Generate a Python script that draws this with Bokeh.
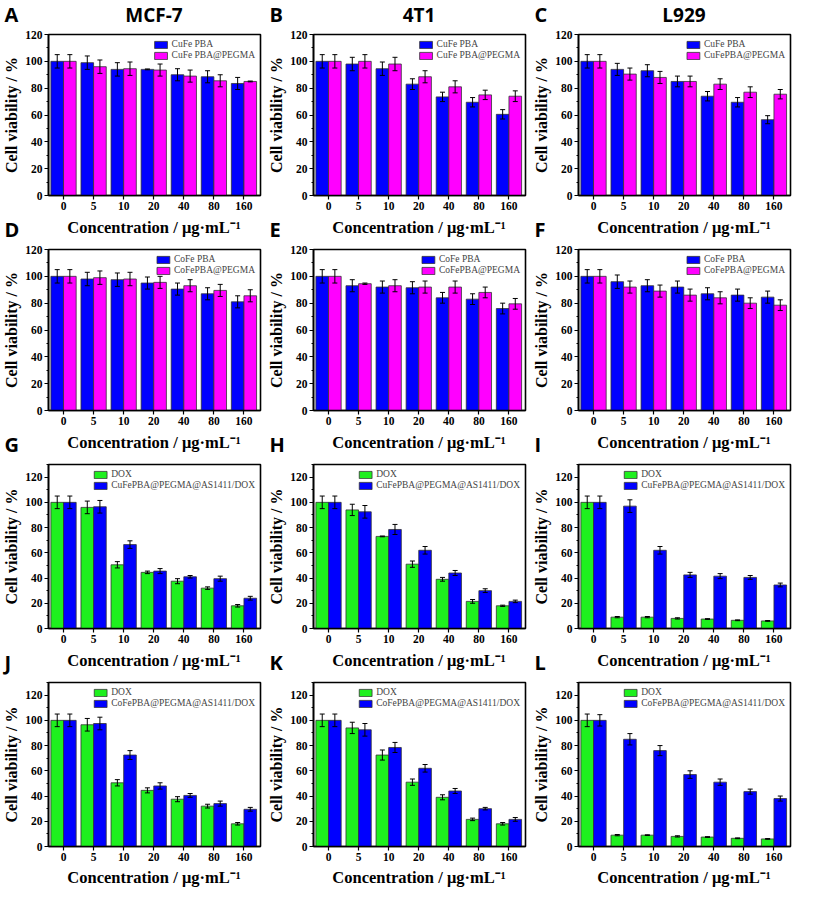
import numpy as np
from bokeh.plotting import figure
from bokeh.models import (ColumnDataSource, Whisker, TeeHead, Legend, LegendItem,
                          FixedTicker, SingleIntervalTicker, Range1d)
from bokeh.core.properties import value
from bokeh.layouts import column, row
from bokeh.embed import file_html
from bokeh.resources import INLINE

# ---------------- data ----------------
conc_labels = ["0", "5", "10", "20", "40", "80", "160"]
cell_lines = ["MCF-7", "4T1", "L929"]
panel_letters = ["A", "B", "C", "D", "E", "F", "G", "H", "I", "J", "K", "L"]
x_title = "Concentration / μg·mL⁻¹"
y_title = "Cell viability / %"

# Row 1: CuFe PBA vs CuFe PBA@PEGMA
a_pba = [100, 99, 94, 94, 90, 88.5, 83.5]
a_pba_err = [5, 5, 5, 0.3, 4.5, 4.5, 4.5]
a_peg = [100, 96, 94.5, 93.5, 89, 85.5, 85]
a_peg_err = [5, 5, 5, 4.5, 4.5, 4.5, 0.3]

b_pba = [100, 98, 94.5, 83, 73.5, 69.5, 60.5]
b_pba_err = [5, 5, 5, 4, 3.5, 3.5, 3.5]
b_peg = [100, 100, 98, 88.5, 81, 75, 74]
b_peg_err = [5, 5, 5, 4.5, 4.5, 3.5, 4]

c_pba = [100, 94, 93, 85, 74, 69.5, 56.5]
c_pba_err = [5, 4.5, 4.5, 4, 3.5, 3.5, 3]
c_peg = [100, 90.5, 88, 85, 83, 77, 75.5]
c_peg_err = [5, 4.5, 4.5, 4, 4, 4, 3.5]

# Row 2: CoFe PBA vs CoFePBA@PEGMA
d_pba = [100, 98, 97.5, 95, 90.5, 87, 81]
d_pba_err = [5, 5, 5, 4.5, 4.5, 4.5, 4.5]
d_peg = [100, 99, 98, 95.5, 93, 89.5, 85.5]
d_peg_err = [5, 5, 5, 4.5, 4.5, 4.5, 4.5]

e_pba = [100, 93, 92, 91.5, 84, 83, 76]
e_pba_err = [5, 4.5, 4.5, 4.5, 4, 4, 4]
e_peg = [100, 94.5, 93, 92, 92, 88, 79.5]
e_peg_err = [5, 0.5, 4.5, 4.5, 4.5, 4, 4]

f_pba = [100, 96, 93, 92, 87, 86, 84.5]
f_pba_err = [5, 5, 4.5, 4.5, 4.5, 4.5, 4.5]
f_peg = [100, 92, 89, 86, 84, 80, 78.5]
f_peg_err = [5, 4.5, 4.5, 4.5, 4.5, 4, 4]

# Row 3: DOX vs CuFePBA@PEGMA@AS1411/DOX
g_dox = [100, 96, 50.5, 44.5, 37.5, 32, 18]
g_dox_err = [5, 5, 2.5, 1, 2, 1, 1]
g_np = [100, 96.5, 66.5, 45.5, 41, 39.5, 24]
g_np_err = [5, 5, 3, 2, 1, 2, 1.5]

h_dox = [100, 94, 73, 51, 39, 21.5, 18]
h_dox_err = [5, 4.5, 0.3, 2.5, 1.5, 1.5, 0.5]
h_np = [100, 92.5, 78.5, 62, 44, 30, 21.5]
h_np_err = [5, 5, 4, 3, 2, 1.5, 1]

i_dox = [100, 9, 9, 8, 7.5, 6.5, 6]
i_dox_err = [5, 0.5, 0.5, 0.5, 0.3, 0.3, 0.3]
i_np = [100, 97, 62, 42.5, 41.5, 40.5, 34.5]
i_np_err = [5, 5, 3, 2, 2, 1.5, 1.5]

# Row 4: DOX vs CoFePBA@PEGMA@AS1411/DOX
j_dox = [100, 96.5, 50.5, 44.5, 37.5, 32, 18]
j_dox_err = [5, 5, 2.5, 2, 2, 1.5, 1]
j_np = [100, 97.5, 72.5, 48, 40.5, 34, 29.5]
j_np_err = [5, 5, 3.5, 2.5, 1.5, 2, 1.5]

k_dox = [100, 94, 72.5, 51, 39, 21.5, 18]
k_dox_err = [5, 4.5, 4, 2.5, 2, 1, 1]
k_np = [100, 92.5, 78.5, 62, 44, 30, 21.5]
k_np_err = [5, 5, 4, 3, 2, 1, 1.5]

l_dox = [100, 9, 9, 8, 7.5, 6.5, 6]
l_dox_err = [5, 0.5, 0.3, 0.5, 0.3, 0.3, 0.3]
l_np = [100, 85, 76, 57, 51, 43.5, 38]
l_np_err = [4.5, 4.5, 4, 3, 2.5, 2, 2]

names_row1 = [("CuFe PBA", "CuFe PBA@PEGMA"), ("CuFe PBA", "CuFe PBA@PEGMA"), ("CuFe PBA", "CuFePBA@PEGMA")]
names_row2 = [("CoFe PBA", "CoFePBA@PEGMA")] * 3
names_row3 = [("DOX", "CuFePBA@PEGMA@AS1411/DOX")] * 3
names_row4 = [("DOX", "CoFePBA@PEGMA@AS1411/DOX")] * 3

BLUE = "#0000FF"
MAGENTA = "#FF00FF"
GREEN = "#1EF01E"

SERIF = "Liberation Serif"
SANS = "Open Sans"

COL_W = 265
LEFT_B = 47
RIGHT_B = 5
FRAME_W = COL_W - LEFT_B - RIGHT_B
TOTAL_W = 3 * COL_W


def make_panel(v1, e1, v2, e2, names, colors, ymax, frame_h):
    top, bottom = 6, 20
    p = figure(width=COL_W, height=top + frame_h + bottom, output_backend="svg",
               toolbar_location=None, tools="",
               x_range=Range1d(-0.5, 6.55), y_range=Range1d(0, ymax),
               min_border_left=LEFT_B, min_border_right=RIGHT_B,
               min_border_top=top, min_border_bottom=bottom)
    idx = list(range(len(conc_labels)))
    rs = []
    for vals, errs, col, off in [(v1, e1, colors[0], -0.21), (v2, e2, colors[1], 0.21)]:
        src = ColumnDataSource(dict(
            x=[i + off for i in idx], top=vals,
            upper=[v + e for v, e in zip(vals, errs)],
            lower=[v - e for v, e in zip(vals, errs)]))
        r = p.vbar(x="x", top="top", width=0.42, source=src, fill_color=col,
                   line_color="#333333", line_width=0.8)
        rs.append(r)
        p.add_layout(Whisker(source=src, base="x", upper="upper", lower="lower",
                             line_color="black", line_width=1, level="annotation",
                             upper_head=TeeHead(size=5, line_color="black", line_width=1),
                             lower_head=TeeHead(size=5, line_color="black", line_width=1)))
    leg = Legend(items=[LegendItem(label=names[0], renderers=[rs[0]]),
                        LegendItem(label=names[1], renderers=[rs[1]])],
                 location="top_right", label_text_font=SERIF, label_text_font_size="9.5px",
                 glyph_width=16, glyph_height=9, label_height=9, spacing=1, padding=2,
                 margin=3, label_standoff=3, background_fill_alpha=0, border_line_alpha=0)
    p.add_layout(leg)

    p.xgrid.visible = False
    p.ygrid.visible = False
    p.outline_line_color = "black"
    p.outline_line_width = 1.6
    p.outline_line_alpha = 1

    p.xaxis.ticker = FixedTicker(ticks=idx)
    p.xaxis.major_label_overrides = {i: lab for i, lab in enumerate(conc_labels)}
    p.yaxis.ticker = SingleIntervalTicker(interval=20, num_minor_ticks=2)
    p.yaxis.axis_label = y_title
    for ax in (p.xaxis[0], p.yaxis[0]):
        ax.axis_line_width = 1.6
        ax.axis_line_color = "black"
        ax.major_tick_line_width = 1.2
        ax.major_tick_out = 4
        ax.major_tick_in = 0
        ax.minor_tick_out = 2
        ax.minor_tick_in = 0
        ax.major_label_text_font = SERIF
        ax.major_label_text_font_style = "bold"
        ax.major_label_text_font_size = "11.5px"
        ax.major_label_text_color = "black"
        ax.axis_label_text_font = SERIF
        ax.axis_label_text_font_style = "bold"
        ax.axis_label_text_font_size = "16px"
        ax.axis_label_text_color = "black"
        ax.major_label_standoff = 2
        ax.axis_label_standoff = 2
    return p


def make_strip(h, xlabel_y=None, letters=None, letter_y=None, titles=None, title_y=None):
    s = figure(width=TOTAL_W, height=h, output_backend="svg", toolbar_location=None, tools="",
               x_range=Range1d(0, TOTAL_W), y_range=Range1d(h, 0),
               x_axis_location=None, y_axis_location=None,
               min_border=0, min_border_left=0, min_border_right=0,
               min_border_top=0, min_border_bottom=0)
    s.outline_line_color = None
    s.xgrid.visible = False
    s.ygrid.visible = False
    centers = [c * COL_W + LEFT_B + FRAME_W / 2 for c in range(3)]
    if xlabel_y is not None:
        s.text(x=centers, y=[xlabel_y] * 3, text=[x_title] * 3,
               text_font=value(SERIF), text_font_style="bold", text_font_size="16.5px",
               text_align="center", text_baseline="middle", text_color="black")
    if letters is not None:
        s.text(x=[c * COL_W + 4 for c in range(3)], y=[letter_y] * 3, text=letters,
               text_font=value(SANS), text_font_style="bold", text_font_size="20px",
               text_align="left", text_baseline="middle", text_color="black")
    if titles is not None:
        s.text(x=centers, y=[title_y] * 3, text=titles,
               text_font=value(SANS), text_font_style="bold", text_font_size="19px",
               text_align="center", text_baseline="middle", text_color="black")
    return s


rows_data = [
    ([(a_pba, a_pba_err, a_peg, a_peg_err), (b_pba, b_pba_err, b_peg, b_peg_err),
      (c_pba, c_pba_err, c_peg, c_peg_err)], names_row1, (BLUE, MAGENTA), 120, 161),
    ([(d_pba, d_pba_err, d_peg, d_peg_err), (e_pba, e_pba_err, e_peg, e_peg_err),
      (f_pba, f_pba_err, f_peg, f_peg_err)], names_row2, (BLUE, MAGENTA), 120, 161),
    ([(g_dox, g_dox_err, g_np, g_np_err), (h_dox, h_dox_err, h_np, h_np_err),
      (i_dox, i_dox_err, i_np, i_np_err)], names_row3, (GREEN, BLUE), 130, 164),
    ([(j_dox, j_dox_err, j_np, j_np_err), (k_dox, k_dox_err, k_np, k_np_err),
      (l_dox, l_dox_err, l_np, l_np_err)], names_row4, (GREEN, BLUE), 130, 164),
]

items = [make_strip(28, letters=panel_letters[0:3], letter_y=14, titles=cell_lines, title_y=14)]
for ri, (panels, names, cols, ymax, fh) in enumerate(rows_data):
    figs = [make_panel(v1, e1, v2, e2, names[ci], cols, ymax, fh)
            for ci, (v1, e1, v2, e2) in enumerate(panels)]
    items.append(row(*figs))
    if ri < 3:
        items.append(make_strip(28, xlabel_y=12, letters=panel_letters[3 * (ri + 1):3 * (ri + 2)],
                                letter_y=14))
    else:
        items.append(make_strip(22, xlabel_y=11))

layout = column(*items)
open("out.html", "w").write(file_html(layout, INLINE))
